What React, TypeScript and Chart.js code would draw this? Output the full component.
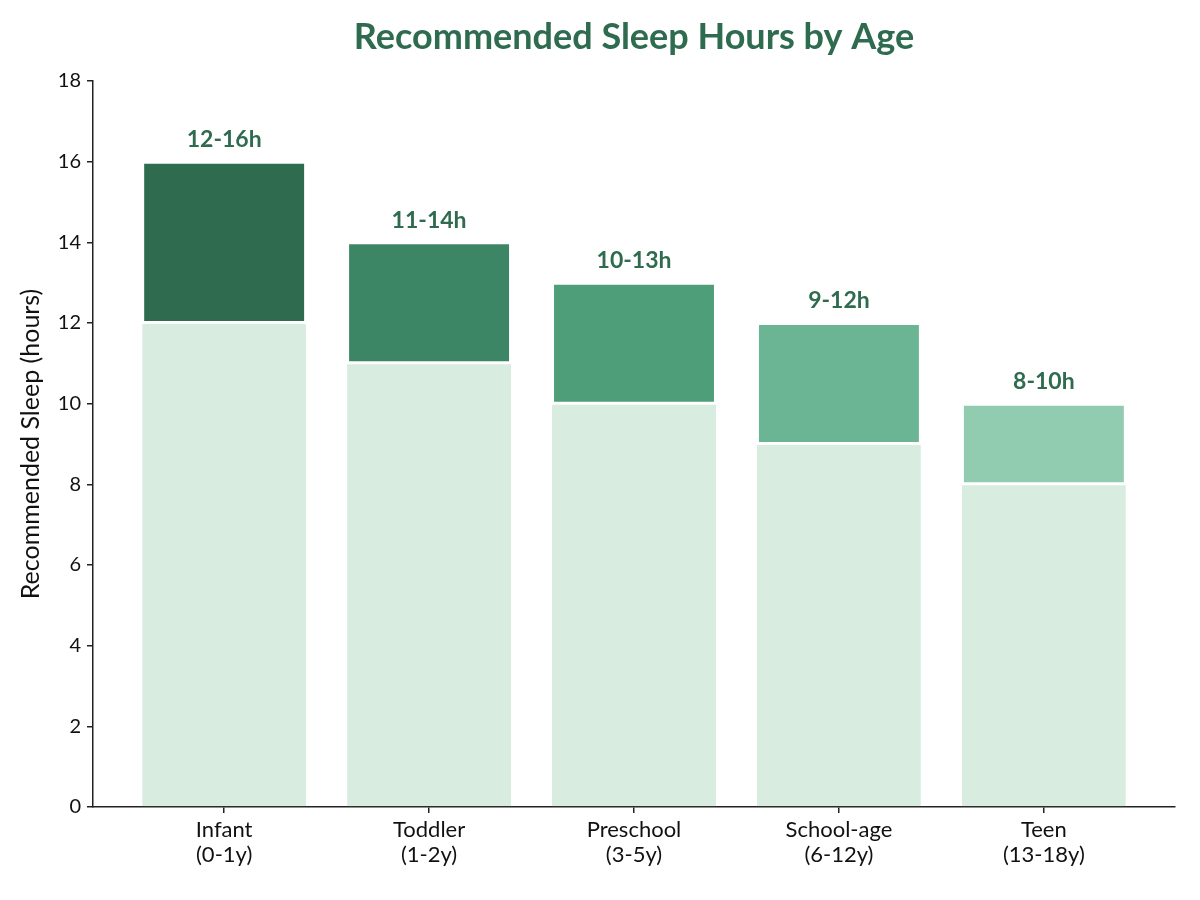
import React, { useRef, useEffect } from 'react'
import { Chart, registerables } from 'chart.js'

Chart.register(...registerables)

const ageGroups = ['Infant', 'Toddler', 'Preschool', 'School-age', 'Teen']
const ageRanges = ['(0-1y)', '(1-2y)', '(3-5y)', '(6-12y)', '(13-18y)']
const minHours = [12, 11, 10, 9, 8]
const maxHours = [16, 14, 13, 12, 10]
const rangeColors = ['#2e6b4f', '#3d8665', '#4f9e7a', '#6bb594', '#91cbb0']
const baseColor = '#d9ece0'
const yTicks = [0, 2, 4, 6, 8, 10, 12, 14, 16, 18]

const GREEN_TEXT = '#2e6b4f'
const FONT = 'Lato, "Noto Sans", sans-serif'

const App: React.FC = () => {
  const canvasRef = useRef<HTMLCanvasElement>(null)

  useEffect(() => {
    document.body.style.margin = '0'
    if (!canvasRef.current) return
    const ctx = canvasRef.current.getContext('2d')
    if (!ctx) return

    let chart = Chart.getChart(canvasRef.current)
    if (chart) chart.destroy()

    // labels above bars + title
    const labelPlugin = {
      id: 'rangeLabels',
      afterDraw(c: any) {
        const g = c.ctx
        const xs = c.scales.x
        const ys = c.scales.y
        g.save()
        g.fillStyle = GREEN_TEXT
        g.textAlign = 'center'
        g.textBaseline = 'middle'
        g.font = `bold 23px ${FONT}`
        maxHours.forEach((mx, i) => {
          g.fillText(`${minHours[i]}-${mx}h`, xs.getPixelForValue(i), ys.getPixelForValue(mx) - 22)
        })
        g.font = `bold 36px ${FONT}`
        g.fillText('Recommended Sleep Hours by Age', (c.chartArea.left + c.chartArea.right) / 2, 37)
        g.restore()
      },
    }

    chart = new Chart(ctx, {
      type: 'bar',
      data: {
        datasets: [
          {
            label: 'Minimum',
            data: minHours.map((v, i) => ({ x: i, y: v })),
            backgroundColor: baseColor,
            borderColor: '#ffffff',
            borderWidth: { top: 1, left: 0, right: 0, bottom: 0 },
            borderSkipped: false,
            barPercentage: 0.8,
            categoryPercentage: 1,
          },
          {
            label: 'Range',
            data: maxHours.map((v, i) => ({ x: i, y: v - minHours[i] })),
            backgroundColor: rangeColors,
            borderColor: '#ffffff',
            borderWidth: 2,
            borderSkipped: false,
            barPercentage: 0.8,
            categoryPercentage: 1,
          },
        ],
      },
      plugins: [labelPlugin],
      options: {
        animation: false,
        responsive: false,
        maintainAspectRatio: false,
        layout: { padding: { top: 81, right: 25, left: 0, bottom: 0 } },
        plugins: {
          legend: { display: false },
          tooltip: { enabled: false },
          title: { display: false },
        },
        scales: {
          x: {
            type: 'linear',
            stacked: true,
            offset: false,
            min: -0.64,
            max: 4.64,
            afterFit: (s: any) => {
              s.height = 93
            },
            afterBuildTicks: (s: any) => {
              s.ticks = ageGroups.map((_, i) => ({ value: i }))
            },
            ticks: {
              autoSkip: false,
              maxRotation: 0,
              color: '#111',
              padding: 4,
              font: { family: FONT, size: 22, lineHeight: 1.15 },
              callback: (v: any) => [ageGroups[v], ageRanges[v]],
            },
            grid: { offset: false, drawOnChartArea: false, drawTicks: true, tickLength: 6, color: '#222', lineWidth: 1.5 },
            border: { color: '#222', width: 1.5 },
          },
          y: {
            stacked: true,
            min: 0,
            max: 18,
            afterFit: (s: any) => {
              s.width = 93
            },
            afterBuildTicks: (s: any) => {
              s.ticks = yTicks.map((v) => ({ value: v }))
            },
            ticks: {
              color: '#111',
              padding: 6,
              font: { family: FONT, size: 20 },
            },
            title: {
              display: true,
              text: 'Recommended Sleep (hours)',
              color: '#111',
              font: { family: FONT, size: 25 },
              padding: { top: 16, bottom: 0 },
            },
            grid: { drawOnChartArea: false, drawTicks: true, tickLength: 6, color: '#222', lineWidth: 1.5 },
            border: { color: '#222', width: 1.5 },
          },
        },
      },
    })

    return () => {
      if (chart) chart.destroy()
    }
  }, [])

  return (
    <div style={{ width: 1200, height: 900, background: '#fff' }}>
      <canvas ref={canvasRef} width={1200} height={900} style={{ width: '1200px', height: '900px', display: 'block' }} />
    </div>
  )
}

export default App
